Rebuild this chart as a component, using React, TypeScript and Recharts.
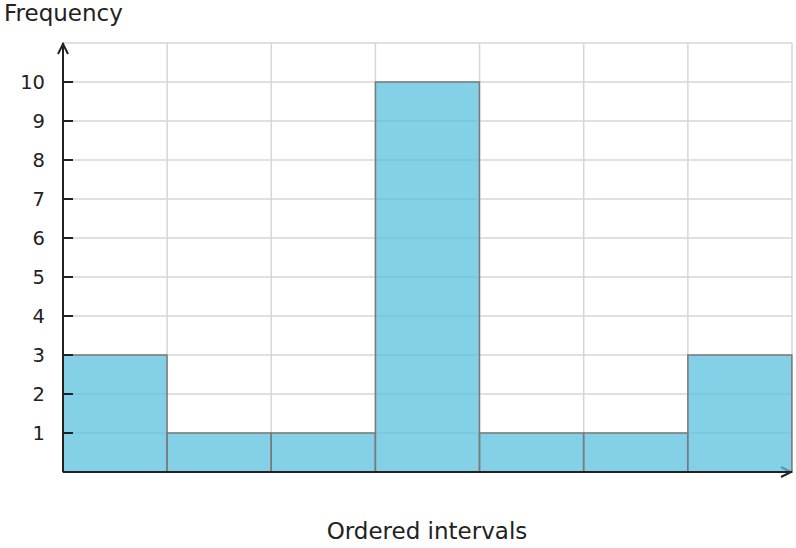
import React from 'react';
import { BarChart, Bar, XAxis, YAxis, CartesianGrid } from 'recharts';

const intervals = ['I1', 'I2', 'I3', 'I4', 'I5', 'I6', 'I7'];
const frequencies = [3, 1, 1, 10, 1, 1, 3];
const yTicks = [1, 2, 3, 4, 5, 6, 7, 8, 9, 10, 11];
const yLabelTicks = [1, 2, 3, 4, 5, 6, 7, 8, 9, 10];

const W = 796;
const H = 548;
const M = { top: 43, right: 4, left: 62, bottom: 75 };
const FONT = '"DejaVu Sans", sans-serif';

const data = intervals.map((name, i) => ({ name, freq: frequencies[i] }));

const YTick = (props: any) => {
  const { x, y, payload } = props;
  if (!yLabelTicks.includes(payload.value)) return null;
  return (
    <g>
      <line x1={x} x2={x + 10} y1={y} y2={y} stroke="#222" strokeWidth={2} />
      <text x={x - 18} y={y} dy="0.35em" textAnchor="end" fill="#222" fontSize={19.5} fontFamily={FONT}>
        {payload.value}
      </text>
    </g>
  );
};

// arrow heads on the ends of both axes
const Arrows = () => {
  const x0 = M.left + 1;
  const y0 = H - M.bottom - 1;
  const x1 = W - M.right;
  const yTop = M.top;
  return (
    <g fill="none" stroke="#222" strokeWidth={2} strokeLinejoin="miter">
      <path d={`M${x0 - 5},${yTop + 11} L${x0},${yTop + 1} L${x0 + 5},${yTop + 11}`} />
      <path d={`M${x1 - 11},${y0 - 5} L${x1 - 1},${y0} L${x1 - 11},${y0 + 5}`} />
    </g>
  );
};

// vertical grid lines sit on the interval boundaries
const boundaries = ({ offset }: any) =>
  intervals.map((_, i) => offset.left + ((i + 1) * offset.width) / intervals.length);

export default function App() {
  return (
    <div style={{ position: 'absolute', left: 0, top: 0, width: W, height: H, fontFamily: FONT, background: '#fff' }}>
      <div style={{ position: 'absolute', left: 4, top: 0, fontSize: 23, color: '#222', lineHeight: '26px' }}>Frequency</div>
      <BarChart width={W} height={H} data={data} margin={M} barCategoryGap={0}>
        <CartesianGrid stroke="#d6d6d6" strokeWidth={1.5} verticalCoordinatesGenerator={boundaries} />
        <XAxis dataKey="name" height={1} tick={false} tickLine={false} axisLine={{ stroke: '#222', strokeWidth: 2 }} />
        <YAxis
          type="number"
          domain={[0, 11]}
          ticks={yTicks}
          width={1}
          tickSize={0}
          tickMargin={0}
          tickLine={false}
          interval={0}
          tick={<YTick />}
          axisLine={{ stroke: '#222', strokeWidth: 2 }}
        />
        <Arrows />
        <Bar
          dataKey="freq"
          fill="#5bc0de"
          fillOpacity={0.75}
          stroke="#7a7a7a"
          strokeWidth={1.5}
          isAnimationActive={false}
        />
      </BarChart>
      <div style={{ position: 'absolute', left: M.left, width: W - M.left - M.right, top: 517, textAlign: 'center', fontSize: 23, color: '#222', lineHeight: '28px' }}>
        Ordered intervals
      </div>
    </div>
  );
}
